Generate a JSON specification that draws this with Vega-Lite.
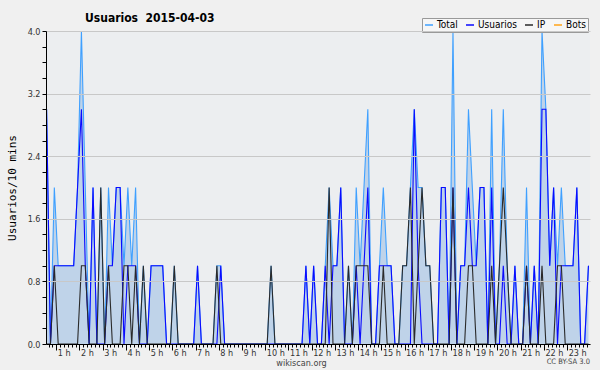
{
"$schema": "https://vega.github.io/schema/vega-lite/v6.json",
"width": 544, "height": 313,
"autosize": {"type": "none"},
"padding": {"left": 46, "top": 31, "right": 10, "bottom": 26},
"background": "#f0f0f0",
"config": {"view": {"fill": "#eceef0", "stroke": null}, "font": "DejaVu Sans"},
"title": {"text": "Usuarios \u00a02015-04-03", "anchor": "start", "frame": "group", "dx": 39, "dy": 15, "offset": 8, "fontSize": 12, "fontWeight": "bold", "font": "DejaVu Sans Condensed", "color": "#000000"},
"data": {"values": [
{"t":35,"Total":3,"Usuarios":3,"IP":0,"Bots":0},
{"t":45,"Total":0,"Usuarios":0,"IP":0,"Bots":0},
{"t":55,"Total":2,"Usuarios":1,"IP":1,"Bots":0},
{"t":65,"Total":1,"Usuarios":1,"IP":0,"Bots":0},
{"t":75,"Total":1,"Usuarios":1,"IP":0,"Bots":0},
{"t":85,"Total":1,"Usuarios":1,"IP":0,"Bots":0},
{"t":95,"Total":1,"Usuarios":1,"IP":0,"Bots":0},
{"t":105,"Total":1,"Usuarios":1,"IP":0,"Bots":0},
{"t":115,"Total":2,"Usuarios":2,"IP":0,"Bots":0},
{"t":125,"Total":4,"Usuarios":3,"IP":1,"Bots":0},
{"t":135,"Total":2,"Usuarios":1,"IP":1,"Bots":0},
{"t":145,"Total":0,"Usuarios":0,"IP":0,"Bots":0},
{"t":155,"Total":2,"Usuarios":2,"IP":0,"Bots":0},
{"t":165,"Total":0,"Usuarios":0,"IP":0,"Bots":0},
{"t":175,"Total":2,"Usuarios":0,"IP":2,"Bots":0},
{"t":185,"Total":0,"Usuarios":0,"IP":0,"Bots":0},
{"t":195,"Total":2,"Usuarios":1,"IP":1,"Bots":0},
{"t":205,"Total":1,"Usuarios":1,"IP":0,"Bots":0},
{"t":215,"Total":2,"Usuarios":2,"IP":0,"Bots":0},
{"t":225,"Total":2,"Usuarios":2,"IP":0,"Bots":0},
{"t":235,"Total":1,"Usuarios":0,"IP":1,"Bots":0},
{"t":245,"Total":2,"Usuarios":1,"IP":1,"Bots":0},
{"t":255,"Total":1,"Usuarios":1,"IP":0,"Bots":0},
{"t":265,"Total":2,"Usuarios":1,"IP":1,"Bots":0},
{"t":275,"Total":0,"Usuarios":0,"IP":0,"Bots":0},
{"t":285,"Total":1,"Usuarios":0,"IP":1,"Bots":0},
{"t":295,"Total":0,"Usuarios":0,"IP":0,"Bots":0},
{"t":305,"Total":1,"Usuarios":1,"IP":0,"Bots":0},
{"t":315,"Total":1,"Usuarios":1,"IP":0,"Bots":0},
{"t":325,"Total":1,"Usuarios":1,"IP":0,"Bots":0},
{"t":335,"Total":1,"Usuarios":1,"IP":0,"Bots":0},
{"t":345,"Total":0,"Usuarios":0,"IP":0,"Bots":0},
{"t":355,"Total":0,"Usuarios":0,"IP":0,"Bots":0},
{"t":365,"Total":1,"Usuarios":0,"IP":1,"Bots":0},
{"t":375,"Total":0,"Usuarios":0,"IP":0,"Bots":0},
{"t":385,"Total":0,"Usuarios":0,"IP":0,"Bots":0},
{"t":395,"Total":0,"Usuarios":0,"IP":0,"Bots":0},
{"t":405,"Total":0,"Usuarios":0,"IP":0,"Bots":0},
{"t":415,"Total":0,"Usuarios":0,"IP":0,"Bots":0},
{"t":425,"Total":1,"Usuarios":1,"IP":0,"Bots":0},
{"t":435,"Total":0,"Usuarios":0,"IP":0,"Bots":0},
{"t":445,"Total":0,"Usuarios":0,"IP":0,"Bots":0},
{"t":455,"Total":0,"Usuarios":0,"IP":0,"Bots":0},
{"t":465,"Total":0,"Usuarios":0,"IP":0,"Bots":0},
{"t":475,"Total":1,"Usuarios":0,"IP":1,"Bots":0},
{"t":485,"Total":1,"Usuarios":1,"IP":0,"Bots":0},
{"t":495,"Total":0,"Usuarios":0,"IP":0,"Bots":0},
{"t":505,"Total":0,"Usuarios":0,"IP":0,"Bots":0},
{"t":515,"Total":0,"Usuarios":0,"IP":0,"Bots":0},
{"t":525,"Total":0,"Usuarios":0,"IP":0,"Bots":0},
{"t":535,"Total":0,"Usuarios":0,"IP":0,"Bots":0},
{"t":545,"Total":0,"Usuarios":0,"IP":0,"Bots":0},
{"t":555,"Total":0,"Usuarios":0,"IP":0,"Bots":0},
{"t":565,"Total":0,"Usuarios":0,"IP":0,"Bots":0},
{"t":575,"Total":0,"Usuarios":0,"IP":0,"Bots":0},
{"t":585,"Total":0,"Usuarios":0,"IP":0,"Bots":0},
{"t":595,"Total":0,"Usuarios":0,"IP":0,"Bots":0},
{"t":605,"Total":0,"Usuarios":0,"IP":0,"Bots":0},
{"t":615,"Total":1,"Usuarios":0,"IP":1,"Bots":0},
{"t":625,"Total":0,"Usuarios":0,"IP":0,"Bots":0},
{"t":635,"Total":0,"Usuarios":0,"IP":0,"Bots":0},
{"t":645,"Total":0,"Usuarios":0,"IP":0,"Bots":0},
{"t":655,"Total":0,"Usuarios":0,"IP":0,"Bots":0},
{"t":665,"Total":0,"Usuarios":0,"IP":0,"Bots":0},
{"t":675,"Total":0,"Usuarios":0,"IP":0,"Bots":0},
{"t":685,"Total":0,"Usuarios":0,"IP":0,"Bots":0},
{"t":695,"Total":0,"Usuarios":0,"IP":0,"Bots":0},
{"t":705,"Total":1,"Usuarios":1,"IP":0,"Bots":0},
{"t":715,"Total":0,"Usuarios":0,"IP":0,"Bots":0},
{"t":725,"Total":1,"Usuarios":1,"IP":0,"Bots":0},
{"t":735,"Total":0,"Usuarios":0,"IP":0,"Bots":0},
{"t":745,"Total":0,"Usuarios":0,"IP":0,"Bots":0},
{"t":755,"Total":1,"Usuarios":1,"IP":0,"Bots":0},
{"t":765,"Total":2,"Usuarios":0,"IP":2,"Bots":0},
{"t":775,"Total":1,"Usuarios":1,"IP":0,"Bots":0},
{"t":785,"Total":1,"Usuarios":1,"IP":0,"Bots":0},
{"t":795,"Total":2,"Usuarios":2,"IP":0,"Bots":0},
{"t":805,"Total":0,"Usuarios":0,"IP":0,"Bots":0},
{"t":815,"Total":1,"Usuarios":0,"IP":1,"Bots":0},
{"t":825,"Total":0,"Usuarios":0,"IP":0,"Bots":0},
{"t":835,"Total":2,"Usuarios":1,"IP":1,"Bots":0},
{"t":845,"Total":1,"Usuarios":0,"IP":1,"Bots":0},
{"t":855,"Total":2,"Usuarios":1,"IP":1,"Bots":0},
{"t":865,"Total":3,"Usuarios":2,"IP":1,"Bots":0},
{"t":875,"Total":0,"Usuarios":0,"IP":0,"Bots":0},
{"t":885,"Total":0,"Usuarios":0,"IP":0,"Bots":0},
{"t":895,"Total":1,"Usuarios":1,"IP":0,"Bots":0},
{"t":905,"Total":2,"Usuarios":1,"IP":1,"Bots":0},
{"t":915,"Total":1,"Usuarios":1,"IP":0,"Bots":0},
{"t":925,"Total":1,"Usuarios":1,"IP":0,"Bots":0},
{"t":935,"Total":0,"Usuarios":0,"IP":0,"Bots":0},
{"t":945,"Total":0,"Usuarios":0,"IP":0,"Bots":0},
{"t":955,"Total":1,"Usuarios":0,"IP":1,"Bots":0},
{"t":965,"Total":1,"Usuarios":0,"IP":1,"Bots":0},
{"t":975,"Total":2,"Usuarios":0,"IP":2,"Bots":0},
{"t":985,"Total":3,"Usuarios":3,"IP":0,"Bots":0},
{"t":995,"Total":2,"Usuarios":1,"IP":1,"Bots":0},
{"t":1005,"Total":2,"Usuarios":0,"IP":2,"Bots":0},
{"t":1015,"Total":1,"Usuarios":0,"IP":1,"Bots":0},
{"t":1025,"Total":1,"Usuarios":0,"IP":1,"Bots":0},
{"t":1035,"Total":0,"Usuarios":0,"IP":0,"Bots":0},
{"t":1045,"Total":0,"Usuarios":0,"IP":0,"Bots":0},
{"t":1055,"Total":2,"Usuarios":2,"IP":0,"Bots":0},
{"t":1065,"Total":2,"Usuarios":2,"IP":0,"Bots":0},
{"t":1075,"Total":0,"Usuarios":0,"IP":0,"Bots":0},
{"t":1085,"Total":4,"Usuarios":2,"IP":2,"Bots":0},
{"t":1095,"Total":0,"Usuarios":0,"IP":0,"Bots":0},
{"t":1105,"Total":1,"Usuarios":1,"IP":0,"Bots":0},
{"t":1115,"Total":1,"Usuarios":1,"IP":0,"Bots":0},
{"t":1125,"Total":3,"Usuarios":2,"IP":1,"Bots":0},
{"t":1135,"Total":2,"Usuarios":1,"IP":1,"Bots":0},
{"t":1145,"Total":1,"Usuarios":1,"IP":0,"Bots":0},
{"t":1155,"Total":2,"Usuarios":2,"IP":0,"Bots":0},
{"t":1165,"Total":2,"Usuarios":2,"IP":0,"Bots":0},
{"t":1175,"Total":0,"Usuarios":0,"IP":0,"Bots":0},
{"t":1185,"Total":3,"Usuarios":2,"IP":1,"Bots":0},
{"t":1195,"Total":0,"Usuarios":0,"IP":0,"Bots":0},
{"t":1205,"Total":1,"Usuarios":0,"IP":1,"Bots":0},
{"t":1215,"Total":3,"Usuarios":1,"IP":2,"Bots":0},
{"t":1225,"Total":1,"Usuarios":0,"IP":1,"Bots":0},
{"t":1235,"Total":0,"Usuarios":0,"IP":0,"Bots":0},
{"t":1245,"Total":1,"Usuarios":1,"IP":0,"Bots":0},
{"t":1255,"Total":0,"Usuarios":0,"IP":0,"Bots":0},
{"t":1265,"Total":0,"Usuarios":0,"IP":0,"Bots":0},
{"t":1275,"Total":2,"Usuarios":1,"IP":1,"Bots":0},
{"t":1285,"Total":0,"Usuarios":0,"IP":0,"Bots":0},
{"t":1295,"Total":1,"Usuarios":1,"IP":0,"Bots":0},
{"t":1305,"Total":0,"Usuarios":0,"IP":0,"Bots":0},
{"t":1315,"Total":4,"Usuarios":3,"IP":1,"Bots":0},
{"t":1325,"Total":3,"Usuarios":3,"IP":0,"Bots":0},
{"t":1335,"Total":1,"Usuarios":1,"IP":0,"Bots":0},
{"t":1345,"Total":2,"Usuarios":2,"IP":0,"Bots":0},
{"t":1355,"Total":1,"Usuarios":0,"IP":1,"Bots":0},
{"t":1365,"Total":2,"Usuarios":1,"IP":1,"Bots":0},
{"t":1375,"Total":1,"Usuarios":1,"IP":0,"Bots":0},
{"t":1385,"Total":1,"Usuarios":1,"IP":0,"Bots":0},
{"t":1395,"Total":1,"Usuarios":1,"IP":0,"Bots":0},
{"t":1405,"Total":2,"Usuarios":2,"IP":0,"Bots":0},
{"t":1415,"Total":0,"Usuarios":0,"IP":0,"Bots":0},
{"t":1425,"Total":0,"Usuarios":0,"IP":0,"Bots":0},
{"t":1435,"Total":1,"Usuarios":1,"IP":0,"Bots":0}
]},
"layer": [
{"mark": {"type": "area", "color": "#4a90d9", "opacity": 0.28, "clip": true},
 "encoding": {
  "x": {"field": "t", "type": "quantitative", "scale": {"domain": [33.5, 1439], "nice": false, "zero": false},
   "axis": {"values": [40,50,60,70,80,90,100,110,120,130,140,150,160,170,180,190,200,210,220,230,240,250,260,270,280,290,300,310,320,330,340,350,360,370,380,390,400,410,420,430,440,450,460,470,480,490,500,510,520,530,540,550,560,570,580,590,600,610,620,630,640,650,660,670,680,690,700,710,720,730,740,750,760,770,780,790,800,810,820,830,840,850,860,870,880,890,900,910,920,930,940,950,960,970,980,990,1000,1010,1020,1030,1040,1050,1060,1070,1080,1090,1100,1110,1120,1130,1140,1150,1160,1170,1180,1190,1200,1210,1220,1230,1240,1250,1260,1270,1280,1290,1300,1310,1320,1330,1340,1350,1360,1370,1380,1390,1400,1410,1420,1430],
    "tickCount": 1000,
    "labelExpr": "datum.value % 60 === 0 ? (datum.value / 60) + ' h' : ''",
    "tickSize": {"condition": {"test": "datum.value % 60 === 0", "value": 6}, "value": 3},
    "tickColor": "#000000", "domainColor": "#000000", "grid": false,
    "labelAlign": "left", "labelOffset": 1, "labelPadding": -2, "labelFontSize": 9, "labelFont": "DejaVu Sans Condensed", "labelColor": "#333333",
    "labelOverlap": false, "labelFlush": false, "labelBound": false,
    "title": "wikiscan.org", "titleFont": "DejaVu Sans Condensed", "titleFontSize": 9, "titleFontWeight": "normal", "titleColor": "#444444",
    "titleX": 255, "titleY": 18, "titleBaseline": "middle", "titleAnchor": "middle", "zindex": 1}},
  "y": {"field": "Total", "type": "quantitative", "scale": {"domain": [0, 4], "nice": false},
   "axis": {"values": [0,0.2,0.4,0.6,0.8,1,1.2,1.4,1.6,1.8,2,2.2,2.4,2.6,2.8,3,3.2,3.4,3.6,3.8,4],
    "tickCount": 1000,
    "labelExpr": "abs(round(datum.value / 0.8) * 0.8 - datum.value) < 0.001 ? format(datum.value, '.1f') : ''",
    "grid": true, "gridColor": "#c8c8c8",
    "gridOpacity": {"condition": {"test": "abs(round(datum.value / 0.8) * 0.8 - datum.value) < 0.001", "value": 1}, "value": 0},
    "tickSize": 4, "tickColor": "#000000", "domainColor": "#000000",
    "labelFontSize": 9, "labelFont": "DejaVu Sans Condensed", "labelColor": "#333333", "labelPadding": 2, "labelOverlap": false,
    "title": "Usuarios/10 mins", "titleFont": "DejaVu Sans Mono", "titleFontSize": 11, "titleFontWeight": "normal", "titleColor": "#000000", "titlePadding": 10, "zindex": 1}}
 }},
{"mark": {"type": "line", "strokeWidth": 1.1, "clip": true},
 "encoding": {"x": {"field": "t", "type": "quantitative"}, "y": {"field": "Total", "type": "quantitative"},
  "color": {"datum": "Total", "type": "nominal",
   "scale": {"domain": ["Total", "Usuarios", "IP", "Bots"], "range": ["#3fa0ff", "#0a0aff", "#2a2a2a", "#ffa31a"]},
   "legend": {"orient": "none", "legendX": 376, "legendY": -13, "direction": "horizontal", "title": null,
    "symbolType": "stroke", "symbolSize": 64, "symbolStrokeWidth": 1.5, "labelFontSize": 10, "labelFont": "DejaVu Sans Condensed", "labelColor": "#000000",
    "labelOffset": 3, "columnPadding": 5, "padding": 2, "fillColor": "#f6f6f6", "strokeColor": "#999999"}}}},
{"mark": {"type": "line", "strokeWidth": 1.1, "clip": true},
 "encoding": {"x": {"field": "t", "type": "quantitative"}, "y": {"field": "Usuarios", "type": "quantitative"},
  "color": {"datum": "Usuarios", "type": "nominal"}}},
{"mark": {"type": "line", "strokeWidth": 1.1, "clip": true},
 "encoding": {"x": {"field": "t", "type": "quantitative"}, "y": {"field": "IP", "type": "quantitative"},
  "color": {"datum": "IP", "type": "nominal"}}},
{"data": {"values": [{"nota": "CC BY-SA 3.0"}]},
 "mark": {"type": "text", "align": "right", "baseline": "middle", "dy": 18, "fontSize": 7.5, "font": "DejaVu Sans Condensed", "color": "#444444"},
 "encoding": {"text": {"field": "nota", "type": "nominal"}, "x": {"datum": 1439, "type": "quantitative"}, "y": {"datum": 0, "type": "quantitative"}}}
]
}
